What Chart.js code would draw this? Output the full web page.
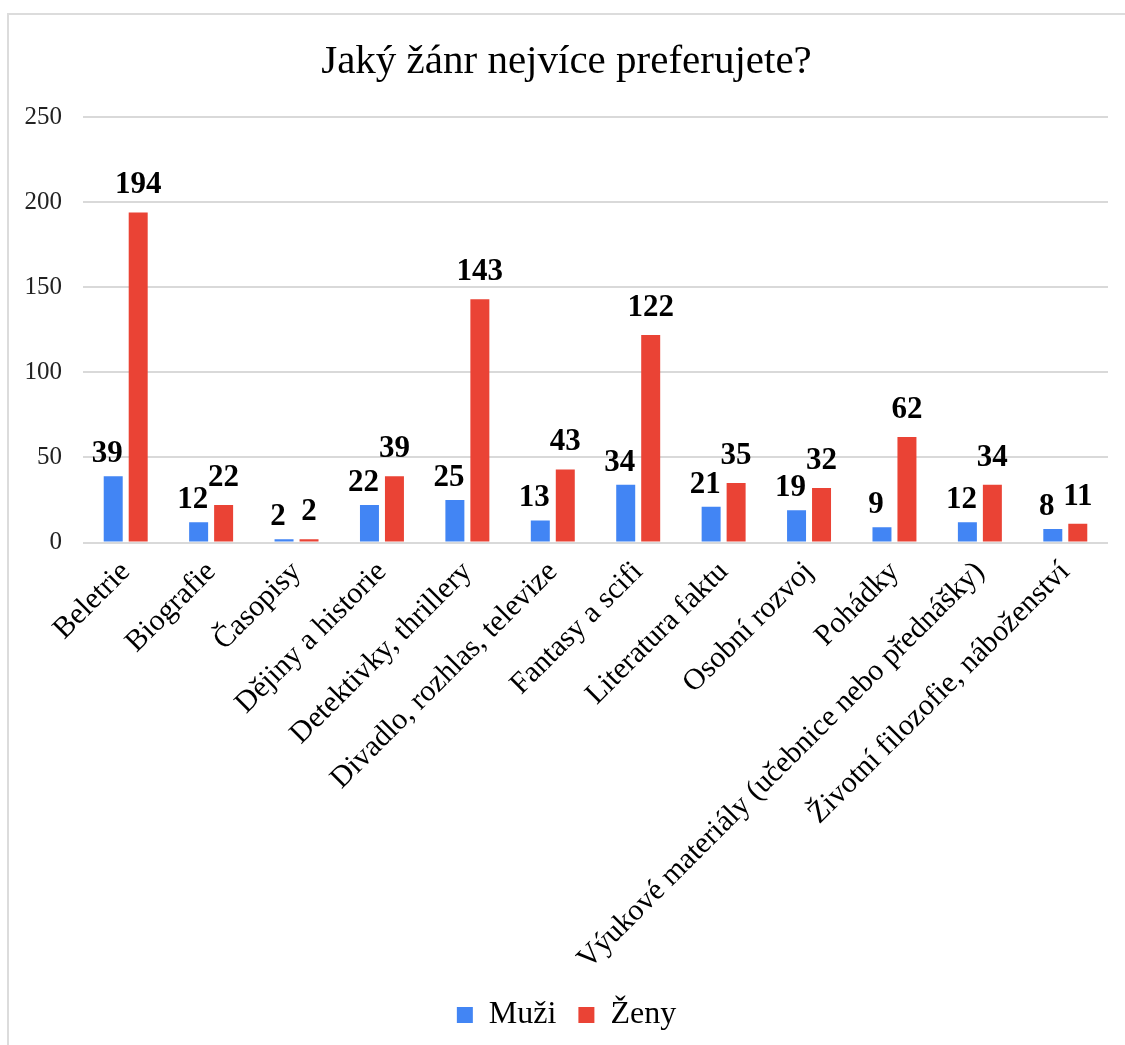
<!DOCTYPE html>
<html>
<head>
<meta charset="utf-8">
<script src="https://cdn.jsdelivr.net/npm/chart.js@4"></script>
<style>
  html, body { margin: 0; padding: 0; background: #fff; }
  #wrap { position: relative; width: 1125px; height: 1045px; overflow: hidden; }
  #frame { position: absolute; left: 7px; top: 13px; width: 1200px; height: 1100px; border: 2px solid #dcdcdc; }
  #box { position: absolute; left: 0; top: 0; width: 1125px; height: 1045px; }
</style>
</head>
<body>
<div id="wrap">
  <div id="frame"></div>
  <div id="box"><canvas id="chart"></canvas></div>
</div>
<script>
const genres = [
  'Beletrie', 'Biografie', 'Časopisy', 'Dějiny a historie', 'Detektivky, thrillery',
  'Divadlo, rozhlas, televize', 'Fantasy a scifi', 'Literatura faktu', 'Osobní rozvoj',
  'Pohádky', 'Výukové materiály (učebnice nebo přednášky)', 'Životní filozofie, náboženství',
];
const muzi = [39, 12, 2, 22, 25, 13, 34, 21, 19, 9, 12, 8];
const zeny = [194, 22, 2, 39, 143, 43, 122, 35, 32, 62, 34, 11];
const yTicks = [0, 50, 100, 150, 200, 250];

const serif = "'Liberation Serif', 'Times New Roman', serif";

// values drawn above each bar, bold
const barLabels = {
  id: 'barLabels',
  afterDatasetsDraw(chart) {
    const ctx = chart.ctx;
    ctx.save();
    ctx.font = `bold 31px ${serif}`;
    ctx.fillStyle = '#000';
    ctx.textAlign = 'center';
    ctx.textBaseline = 'alphabetic';
    chart.data.datasets.forEach((ds, i) => {
      const meta = chart.getDatasetMeta(i);
      meta.data.forEach((bar, j) => {
        const dx = i === 0 ? -6 : 0;
        const gap = i === 0 ? 14 : 19;
        ctx.fillText(String(ds.data[j]), bar.x + dx, bar.y - gap);
      });
    });
    ctx.restore();
  },
};

new Chart(document.querySelector('#chart'), {
  type: 'bar',
  data: {
    labels: genres,
    datasets: [{
      label: 'Muži',
      data: muzi,
      backgroundColor: '#4285F4',
      categoryPercentage: 0.585,
      barPercentage: 0.76,
    }, {
      label: 'Ženy',
      data: zeny,
      backgroundColor: '#EA4335',
      categoryPercentage: 0.585,
      barPercentage: 0.76,
    }],
  },
  options: {
    responsive: true,
    maintainAspectRatio: false,
    animation: false,
    layout: { autoPadding: false, padding: { left: 25, right: 17, top: 20, bottom: 4 } },
    scales: {
      x: {
        grid: { display: false },
        border: { display: false },
        // rotated labels may run into the legend area, like in the original
        afterFit: (scale) => {
          scale.paddingLeft = 0;
          scale.paddingRight = 0;
          scale.height -= 4;
        },
        ticks: {
          autoSkip: false,
          maxRotation: 45,
          minRotation: 45,
          color: '#000',
          padding: 4,
          font: { family: serif, size: 30 },
        },
      },
      y: {
        min: 0,
        max: 250,
        afterBuildTicks: (axis) => { axis.ticks = yTicks.map((v) => ({ value: v })); },
        afterFit: (scale) => { scale.width = 58; },
        grid: { color: '#d9d9d9', lineWidth: 2, drawTicks: false },
        border: { display: false },
        ticks: {
          color: '#222',
          padding: 21,
          font: { family: serif, size: 25 },
        },
      },
    },
    plugins: {
      title: {
        display: true,
        text: 'Jaký žánr nejvíce preferujete?',
        color: '#000',
        font: { family: serif, size: 41, weight: 'normal' },
        padding: { top: 18, bottom: 30 },
      },
      legend: {
        position: 'bottom',
        labels: {
          color: '#000',
          boxWidth: 16,
          boxHeight: 16,
          padding: 22,
          font: { family: serif, size: 32 },
        },
      },
      tooltip: { enabled: false },
    },
  },
  plugins: [barLabels],
});
</script>
</body>
</html>
